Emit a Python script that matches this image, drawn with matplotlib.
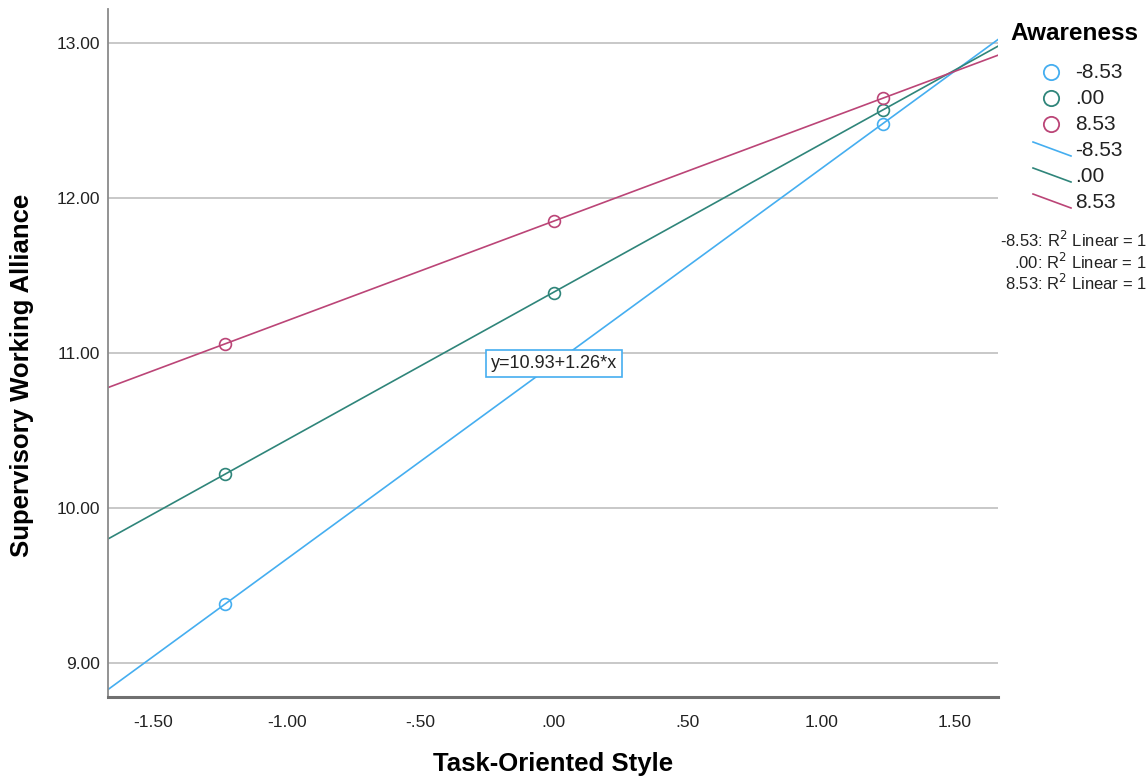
import numpy as np
import matplotlib
matplotlib.use("Agg")
import matplotlib.pyplot as plt
from matplotlib.lines import Line2D

plt.rcParams['font.family'] = ['Liberation Sans', 'DejaVu Sans']

# moderator levels (Awareness) and the points at -1 SD, mean, +1 SD of the predictor
groups = ['-8.53', '.00', '8.53']
colors = ['#45aef0', '#2f857a', '#bb4577']
task_x = [-1.23, 0.0, 1.23]
alliance_y = {
    '-8.53': [9.38, 10.93, 12.48],
    '.00': [10.22, 11.39, 12.57],
    '8.53': [11.06, 11.85, 12.645],
}
y_ticks = [9, 10, 11, 12, 13]
x_ticks = [-1.5, -1.0, -0.5, 0.0, 0.5, 1.0, 1.5]


def spss_fmt(v):
    s = '%.2f' % v
    if s.startswith('0.'):
        s = s[1:]
    elif s.startswith('-0.'):
        s = '-' + s[2:]
    return s


fig = plt.figure(figsize=(11.48, 7.78), dpi=100)
ax = fig.add_axes([108 / 1148, 81 / 778, 890 / 1148, 688 / 778])

xlim = (-1.668, 1.661)
ylim = (8.78, 13.22)
ax.set_xlim(*xlim)
ax.set_ylim(*ylim)

for yt in y_ticks:
    ax.axhline(yt, color='#c4c4c4', lw=1.3, zorder=0)

xx = np.array([xlim[0] - 0.1, xlim[1] + 0.1])
fits = {}
for g, c in zip(groups, colors):
    b, a = np.polyfit(task_x, alliance_y[g], 1)
    fits[g] = (a, b)
    ax.plot(xx, a + b * xx, color=c, lw=1.2, zorder=2)
    ax.plot(task_x, alliance_y[g], 'o', mfc='none', mec=c, ms=8.5, mew=1.2, zorder=3)

# equation label for the first fit line
a0, b0 = fits[groups[0]]
ax.text(0, a0, 'y=%.2f+%.2f*x' % (a0, b0), ha='center', va='center', fontsize=13,
        color='#222222', zorder=4,
        bbox=dict(boxstyle='square,pad=0.28', fc='white', ec=colors[0], lw=1.2))

ax.set_xticks(x_ticks)
ax.set_xticklabels([spss_fmt(v) for v in x_ticks], fontsize=12.5, color='#222222')
ax.set_yticks(y_ticks)
ax.set_yticklabels([spss_fmt(v) for v in y_ticks], fontsize=12.5, color='#222222')
ax.tick_params(length=0)
ax.tick_params(axis='x', pad=13)
ax.tick_params(axis='y', pad=6)

ax.spines['top'].set_visible(False)
ax.spines['right'].set_visible(False)
ax.spines['left'].set_color('#8a8a8a')
ax.spines['left'].set_linewidth(1.3)
ax.spines['bottom'].set_color('#707070')
ax.spines['bottom'].set_linewidth(2.2)

ax.set_xlabel('Task-Oriented Style', fontsize=18.5, fontweight='bold', labelpad=16)
ax.set_ylabel('Supervisory Working Alliance', fontsize=18.5, fontweight='bold')
ax.yaxis.set_label_coords(-0.083, 0.467)

# legend drawn in pixel coordinates of the figure
W, H = 1148, 778


def fx(px):
    return px / W


def fy(py):
    return 1 - py / H


fig.text(fx(1010), fy(33), 'Awareness', fontsize=17.5, fontweight='bold', va='center', ha='left')
for i, (g, c) in enumerate(zip(groups, colors)):
    ym = 72 + i * 26
    fig.add_artist(Line2D([fx(1051)], [fy(ym)], marker='o', mfc='none', mec=c, ms=11, mew=1.3))
    fig.text(fx(1075), fy(ym), g, fontsize=15, va='center', ha='left', color='#222222')
for i, (g, c) in enumerate(zip(groups, colors)):
    ym = 151 + i * 26
    fig.add_artist(Line2D([fx(1033), fx(1071)], [fy(ym - 9), fy(ym + 5)], color=c, lw=1.2))
    fig.text(fx(1075), fy(ym), g, fontsize=15, va='center', ha='left', color='#222222')

for i, g in enumerate(groups):
    fig.text(fx(1147), fy(240 + i * 21.5), '%s: R$^2$ Linear = 1' % g, fontsize=12,
             va='center', ha='right', color='#222222')

fig.savefig('out.png', dpi=100)
